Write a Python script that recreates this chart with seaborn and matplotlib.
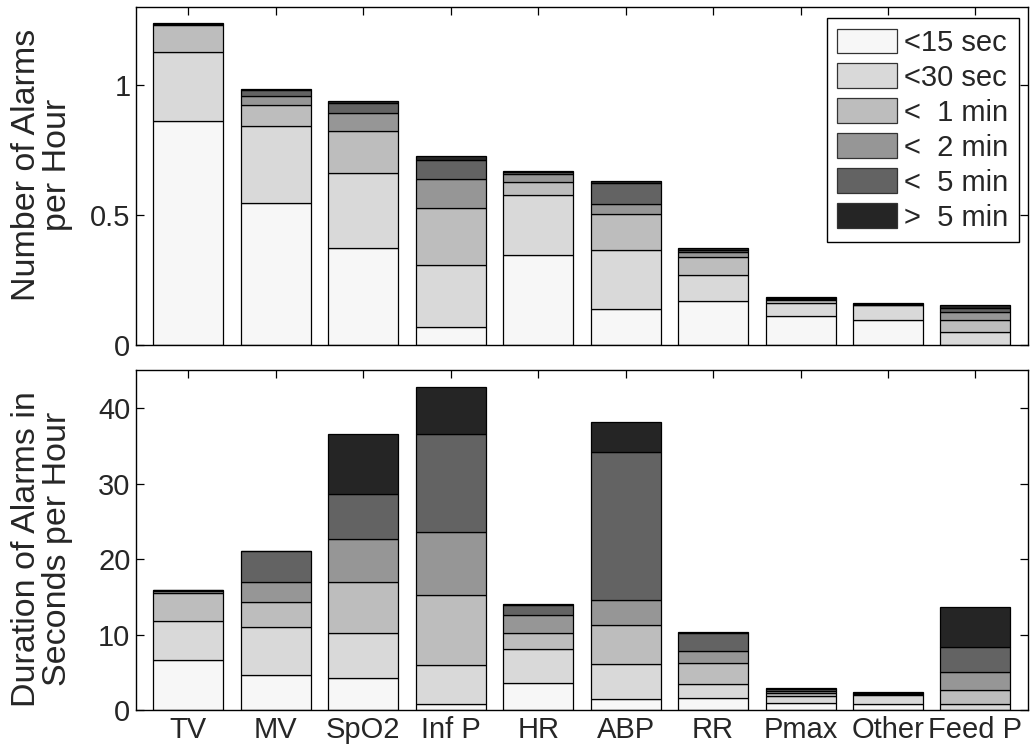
import numpy as np
import pandas as pd
import matplotlib
matplotlib.use("Agg")
import matplotlib.pyplot as plt
from matplotlib.patches import Patch
from matplotlib.ticker import FuncFormatter
import seaborn as sns

# Alarm sources shown along the x axis
signals = ["TV", "MV", "SpO2", "Inf P", "HR", "ABP", "RR", "Pmax", "Other", "Feed P"]

# Alarm duration classes (stacked bottom to top)
bands = ["<15 sec", "<30 sec", "<  1 min", "<  2 min", "<  5 min", ">  5 min"]
band_colors = ["#f7f7f7", "#d9d9d9", "#bdbdbd", "#969696", "#636363", "#252525"]

# Number of alarms per hour, one list per duration class
rate_15s = [0.864, 0.549, 0.374, 0.069, 0.349, 0.140, 0.169, 0.114, 0.099, 0.002]
rate_30s = [0.265, 0.296, 0.290, 0.240, 0.231, 0.225, 0.100, 0.050, 0.055, 0.048]
rate_1m = [0.103, 0.078, 0.159, 0.221, 0.050, 0.139, 0.071, 0.010, 0.002, 0.049]
rate_2m = [0.002, 0.036, 0.072, 0.108, 0.030, 0.041, 0.018, 0.005, 0.001, 0.031]
rate_5m = [0.001, 0.023, 0.036, 0.076, 0.005, 0.079, 0.010, 0.004, 0.001, 0.014]
rate_gt5m = [0.003, 0.005, 0.009, 0.016, 0.005, 0.009, 0.005, 0.003, 0.003, 0.011]

# Alarm duration in seconds per hour, one list per duration class
dur_15s = [6.62, 4.68, 4.24, 0.75, 3.53, 1.46, 1.55, 0.91, 0.73, 0.05]
dur_30s = [5.17, 6.35, 6.00, 5.21, 4.51, 4.67, 1.89, 0.93, 1.24, 0.81]
dur_1m = [3.66, 3.23, 6.75, 9.23, 2.16, 5.13, 2.79, 0.40, 0.18, 1.82]
dur_2m = [0.27, 2.65, 5.62, 8.39, 2.42, 3.31, 1.58, 0.30, 0.10, 2.34]
dur_5m = [0.12, 4.15, 5.96, 12.98, 1.33, 19.64, 2.39, 0.23, 0.06, 3.39]
dur_gt5m = [0.10, 0.02, 8.03, 6.22, 0.05, 3.98, 0.09, 0.13, 0.06, 5.30]

rate_series = [rate_15s, rate_30s, rate_1m, rate_2m, rate_5m, rate_gt5m]
dur_series = [dur_15s, dur_30s, dur_1m, dur_2m, dur_5m, dur_gt5m]


def long_table(series):
    rows = []
    for band, values in zip(bands, series):
        for sig, v in zip(signals, values):
            rows.append({"signal": sig, "band": band, "value": v})
    df = pd.DataFrame(rows)
    df["signal"] = pd.Categorical(df["signal"], categories=signals, ordered=True)
    return df


sns.set_theme(style="white")
plt.rcParams["font.family"] = ["Liberation Sans", "DejaVu Sans"]
FS = 21          # tick and legend text
FS_LABEL = 24.5  # axis titles

palette = dict(zip(bands, band_colors))

fig = plt.figure(figsize=(10.30, 7.52), dpi=100)
ax_top = fig.add_axes([0.1320, 0.5408, 0.8660, 0.4495])
ax_bot = fig.add_axes([0.1320, 0.05585, 0.8660, 0.4517])

for ax, series in ((ax_top, rate_series), (ax_bot, dur_series)):
    sns.histplot(
        data=long_table(series), x="signal", weights="value", hue="band",
        hue_order=bands[::-1], multiple="stack", discrete=True, shrink=0.8,
        palette=palette, edgecolor="black", linewidth=0.9, alpha=1,
        legend=False, ax=ax,
    )
    ax.set_xlim(-0.6, 9.6)
    ax.set_xlabel("")
    ax.tick_params(axis="both", which="both", direction="in", length=5.8,
                   width=0.9, color="black", labelsize=FS, pad=4,
                   top=True, right=True, bottom=True, left=True,
                   labeltop=False, labelright=False)
    for s in ax.spines.values():
        s.set_visible(True)
        s.set_color("black")
        s.set_linewidth(1.0)
    ax.yaxis.set_major_formatter(FuncFormatter(lambda v, p: f"{v:g}"))

ax_top.set_ylim(0, 1.3)
ax_top.set_yticks([0, 0.5, 1])
ax_top.set_xticks(range(len(signals)))
ax_top.set_xticklabels([])
ax_top.set_ylabel("Number of Alarms\nper Hour", fontsize=FS_LABEL, linespacing=1.0)

ax_bot.set_ylim(0, 45)
ax_bot.set_yticks([0, 10, 20, 30, 40])
ax_bot.set_xticks(range(len(signals)))
ax_bot.set_xticklabels(signals)
ax_bot.set_ylabel("Duration of Alarms in\nSeconds per Hour", fontsize=FS_LABEL, linespacing=1.0)

ax_top.yaxis.set_label_coords(-0.071, 0.535)
ax_bot.yaxis.set_label_coords(-0.071, 0.474)

handles = [Patch(facecolor=c, edgecolor="#333333", linewidth=0.9) for c in band_colors]
leg = ax_top.legend(
    handles, bands, loc="upper right",
    bbox_to_anchor=(1 - 9 / 892, 1 - 11 / 338), borderaxespad=0,
    fontsize=FS, frameon=True, fancybox=False, handlelength=2.05,
    handleheight=0.91, handletextpad=0.25, labelspacing=0.23,
    borderpad=0.35,
)
leg.get_frame().set_edgecolor("black")
leg.get_frame().set_linewidth(1.0)
leg.get_frame().set_alpha(1)

fig.savefig("out.png", dpi=100, facecolor="white")
